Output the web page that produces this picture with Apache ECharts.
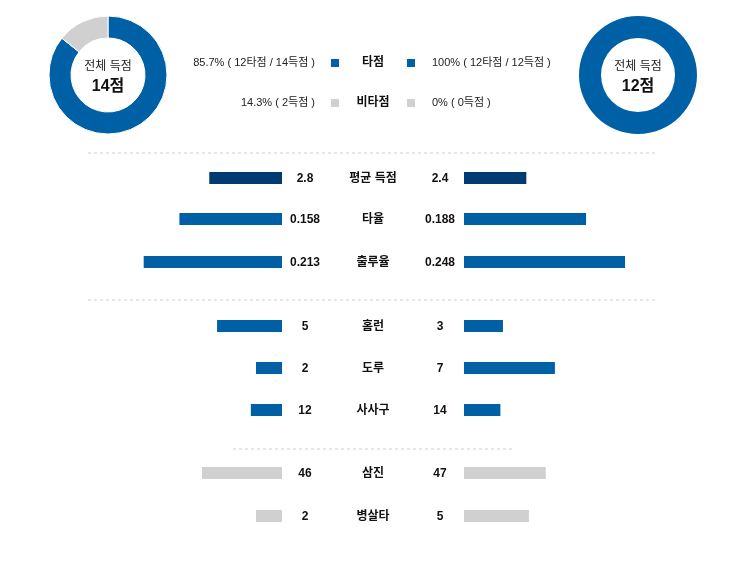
<!DOCTYPE html>
<html>
<head>
    <meta charset="utf-8" />
    <title>팀 기록 비교</title>
    <script src="https://cdn.jsdelivr.net/npm/echarts@6/dist/echarts.min.js"></script>
    <style>
        html, body { margin: 0; padding: 0; background: #fff; }
        #main { width: 746px; height: 569px; }
    </style>
</head>
<body>
<div id="main"></div>
<script type="text/javascript">
    // 득점 / 타점
    var homeRuns = 14, homeRbi = 12;
    var awayRuns = 12, awayRbi = 12;

    // 항목별 기록
    var statNames = ['평균 득점', '타율', '출루율', '홈런', '도루', '사사구', '삼진', '병살타'];
    var homeValues = [2.8, 0.158, 0.213, 5, 2, 12, 46, 2];
    var awayValues = [2.4, 0.188, 0.248, 3, 7, 14, 47, 5];
    var homeLabels = ['2.8', '0.158', '0.213', '5', '2', '12', '46', '2'];
    var awayLabels = ['2.4', '0.188', '0.248', '3', '7', '14', '47', '5'];
    // 항목마다 막대 축 최대값
    var rowMax = [7.7, 0.308, 0.308, 15.4, 15.4, 77, 115, 15.4];

    var font = '"Liberation Sans", Arial, "Noto Sans CJK KR", sans-serif';
    var BLUE = '#0060a5', NAVY = '#003c71', GRAY = '#d0d0d0';
    var rowY = [178, 219, 262, 326, 368, 410, 473, 516];
    var rowColor = [NAVY, BLUE, BLUE, BLUE, BLUE, BLUE, GRAY, GRAY];

    function pct(a, b) {
        var p = a / b * 100;
        return (Math.round(p) === p ? p.toString() : p.toFixed(1)) + '%';
    }

    var myChart = echarts.init(document.getElementById('main'));

    var grids = [], xAxes = [], yAxes = [], series = [], graphics = [];

    for (var i = 0; i < statNames.length; i++) {
        [[82, homeValues[i], true], [464, awayValues[i], false]].forEach(function (side) {
            var idx = grids.length;
            grids.push({left: side[0], width: 200, top: rowY[i] - 6, height: 12});
            xAxes.push({type: 'value', gridIndex: idx, min: 0, max: rowMax[i], inverse: side[2], show: false});
            yAxes.push({type: 'category', gridIndex: idx, data: [statNames[i]], show: false});
            series.push({
                type: 'bar', xAxisIndex: idx, yAxisIndex: idx, barWidth: 12,
                data: [side[1]], itemStyle: {color: rowColor[i]}, silent: true
            });
        });
        var ts = {fontFamily: font, fontSize: 12, fontWeight: 'bold', fill: '#111', textAlign: 'center', textVerticalAlign: 'middle'};
        graphics.push({type: 'text', x: 305, y: rowY[i] + 0.5, style: Object.assign({text: homeLabels[i]}, ts)});
        graphics.push({type: 'text', x: 373, y: rowY[i] + 0.5, style: Object.assign({text: statNames[i]}, ts)});
        graphics.push({type: 'text', x: 440, y: rowY[i] + 0.5, style: Object.assign({text: awayLabels[i]}, ts)});
    }

    // 점선 구분선
    [[88, 655, 153], [88, 655, 300], [233, 512, 449]].forEach(function (d) {
        graphics.push({
            type: 'line', shape: {x1: d[0], y1: d[2], x2: d[1], y2: d[2]},
            style: {stroke: '#e6e6e6', lineWidth: 2, lineDash: [3, 3]}
        });
    });

    // 도넛
    [[108, homeRuns, homeRbi], [638, awayRuns, awayRbi]].forEach(function (p) {
        var rest = p[1] - p[2];
        series.push({
            type: 'pie', center: [p[0], 75], radius: [37, 59], silent: true,
            label: {show: false}, labelLine: {show: false},
            itemStyle: {borderColor: '#fff', borderWidth: rest > 0 ? 1 : 0},
            data: [
                {value: p[2], name: '타점', itemStyle: {color: BLUE}},
                {value: rest, name: '비타점', itemStyle: {color: GRAY}}
            ]
        });
        graphics.push({type: 'text', x: p[0], y: 67, style: {text: '전체 득점', fontFamily: font, fontSize: 12, fill: '#222', textAlign: 'center', textVerticalAlign: 'middle'}});
        graphics.push({type: 'text', x: p[0], y: 87, style: {text: p[1] + '점', fontFamily: font, fontSize: 16, fontWeight: 'bold', fill: '#111', textAlign: 'center', textVerticalAlign: 'middle'}});
    });

    // 가운데 범례
    var legendRows = [
        {y: 63, name: '타점', color: BLUE,
            left: pct(homeRbi, homeRuns) + ' ( ' + homeRbi + '타점 / ' + homeRuns + '득점 )',
            right: pct(awayRbi, awayRuns) + ' ( ' + awayRbi + '타점 / ' + awayRuns + '득점 )'},
        {y: 103, name: '비타점', color: GRAY,
            left: pct(homeRuns - homeRbi, homeRuns) + ' ( ' + (homeRuns - homeRbi) + '득점 )',
            right: pct(awayRuns - awayRbi, awayRuns) + ' ( ' + (awayRuns - awayRbi) + '득점 )'}
    ];
    legendRows.forEach(function (r) {
        graphics.push({type: 'text', x: 315, y: r.y, style: {text: r.left, fontFamily: font, fontSize: 11, fill: '#222', textAlign: 'right', textVerticalAlign: 'middle'}});
        graphics.push({type: 'rect', shape: {x: 331, y: r.y - 4, width: 8, height: 8}, style: {fill: r.color}});
        graphics.push({type: 'text', x: 373, y: r.y, style: {text: r.name, fontFamily: font, fontSize: 12, fontWeight: 'bold', fill: '#111', textAlign: 'center', textVerticalAlign: 'middle'}});
        graphics.push({type: 'rect', shape: {x: 407, y: r.y - 4, width: 8, height: 8}, style: {fill: r.color}});
        graphics.push({type: 'text', x: 432, y: r.y, style: {text: r.right, fontFamily: font, fontSize: 11, fill: '#222', textAlign: 'left', textVerticalAlign: 'middle'}});
    });

    var option = {
        animation: false,
        backgroundColor: '#fff',
        grid: grids,
        xAxis: xAxes,
        yAxis: yAxes,
        series: series,
        graphic: graphics
    };
    myChart.setOption(option);
</script>
</body>
</html>
